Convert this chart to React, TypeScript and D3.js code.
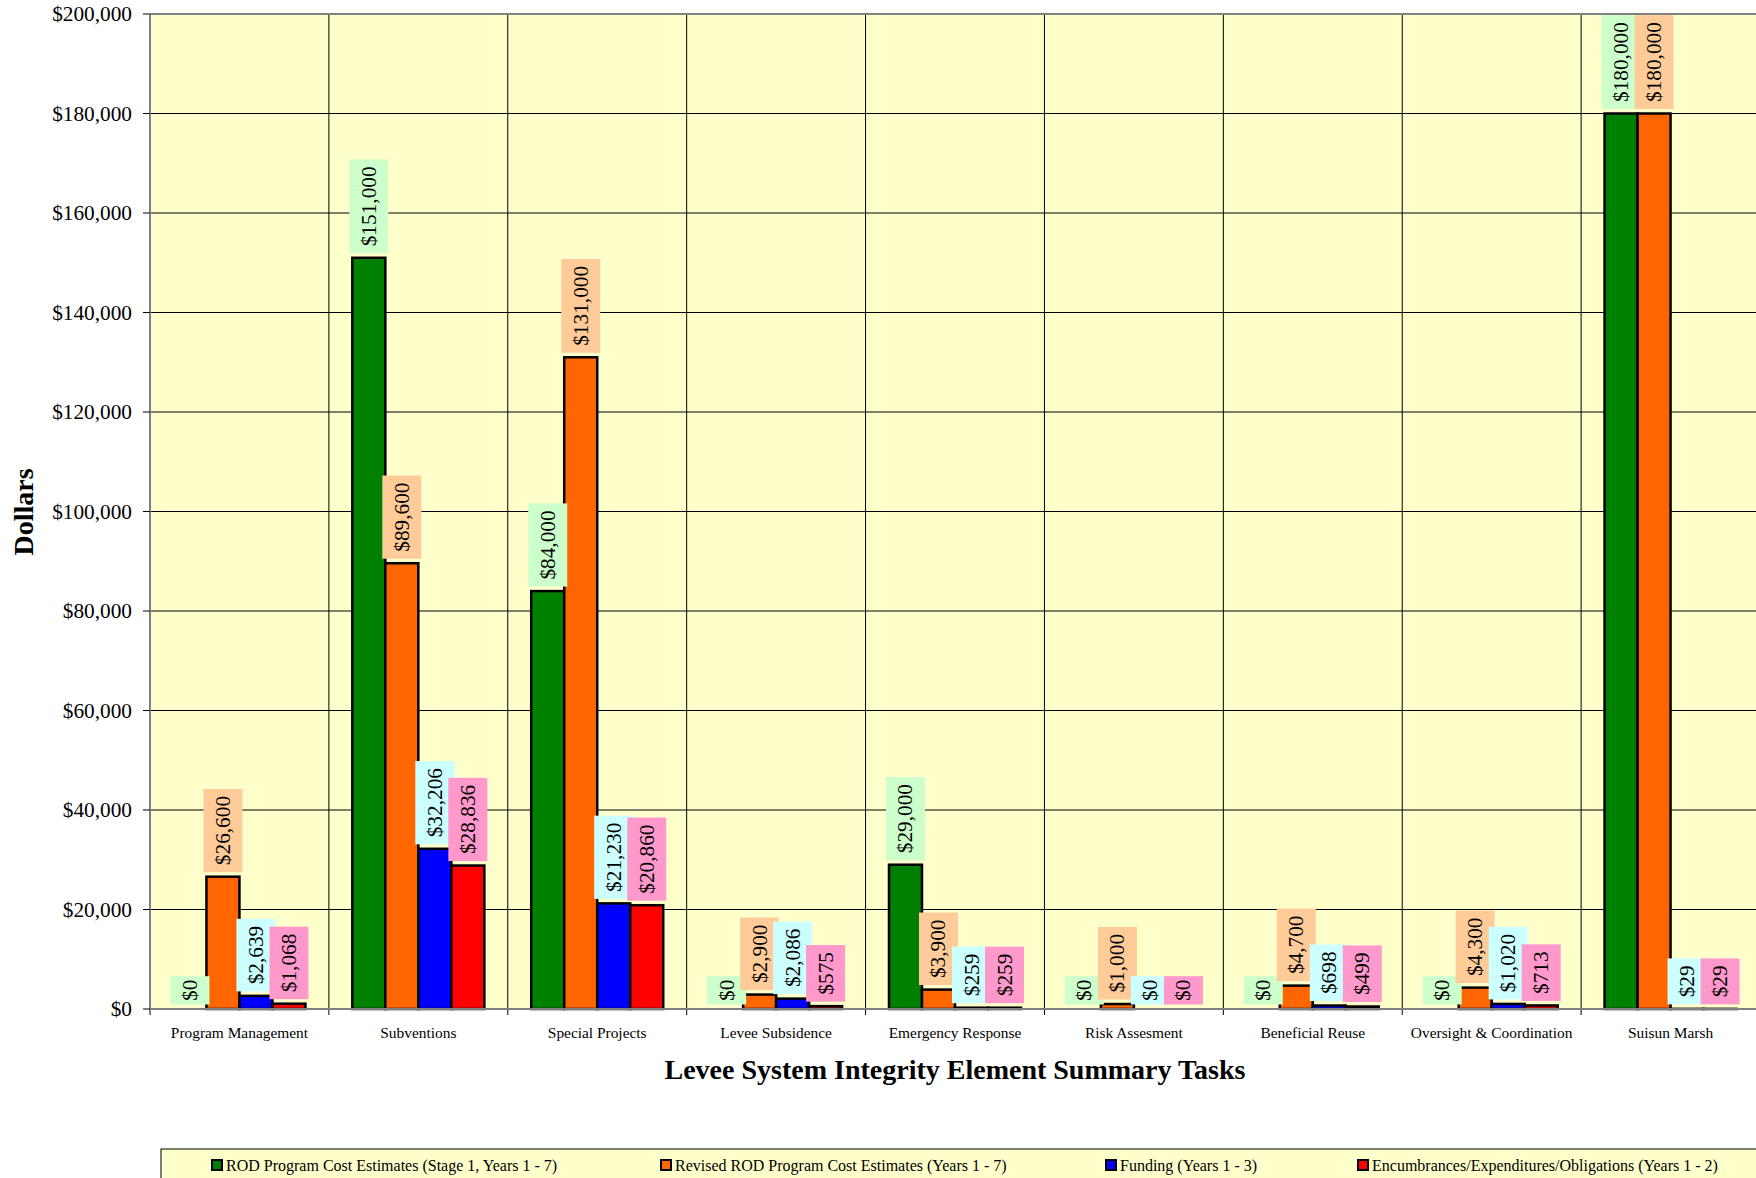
import * as d3 from "d3"
import { useEffect } from "react"

const categories = [
  "Program Management",
  "Subventions",
  "Special Projects",
  "Levee Subsidence",
  "Emergency Response",
  "Risk Assesment",
  "Beneficial Reuse",
  "Oversight & Coordination",
  "Suisun Marsh",
]

const seriesNames = [
  "ROD Program Cost Estimates (Stage 1, Years 1 - 7)",
  "Revised ROD Program Cost Estimates (Years 1 - 7)",
  "Funding (Years 1 - 3)",
  "Encumbrances/Expenditures/Obligations (Years 1 - 2)",
]

const rodEstimates = [0, 151000, 84000, 0, 29000, 0, 0, 0, 180000]
const revisedEstimates = [26600, 89600, 131000, 2900, 3900, 1000, 4700, 4300, 180000]
const funding = [2639, 32206, 21230, 2086, 259, 0, 698, 1020, 29]
const encumbrances = [1068, 28836, 20860, 575, 259, 0, 499, 713, 29]

const yTicks = [0, 20000, 40000, 60000, 80000, 100000, 120000, 140000, 160000, 180000, 200000]

const seriesValues = [rodEstimates, revisedEstimates, funding, encumbrances]
const barColors = ["#008000", "#FF6600", "#0000FF", "#FF0000"]
const labelColors = ["#CCFFCC", "#FFCC99", "#CCFFFF", "#FF99CC"]

const FONT = "'Liberation Serif', 'Times New Roman', serif"
const W = 1756
const H = 1178
const plot = { left: 150, right: 1760, top: 14, bottom: 1009 }
const labelFont = 21.3

const money = (v: number) => "$" + d3.format(",")(v)
// Times digit/$ are half an em, the comma a quarter
const textLen = (s: string) =>
  s.split("").reduce((acc, c) => acc + (c === "," ? 0.25 : 0.5), 0) * labelFont

export default function App() {
  useEffect(() => {
    document.body.style.margin = "0"
  }, [])

  const x = d3.scaleBand<string>().domain(categories).range([plot.left, plot.right]).padding(0)
  const xs = d3
    .scaleBand<number>()
    .domain(d3.range(seriesNames.length))
    .range([0, x.bandwidth()])
    .paddingInner(0)
    .paddingOuter(0.71)
  const y = d3.scaleLinear().domain([0, 200000]).range([plot.bottom, plot.top])

  const legendX = [226, 675, 1120, 1372]

  return (
    <svg width={W} height={H} style={{ display: "block", background: "#fff" }} fontFamily={FONT}>
      <defs>
        <clipPath id="plotClip">
          <rect x={plot.left} y={plot.top} width={plot.right - plot.left} height={plot.bottom - plot.top} />
        </clipPath>
      </defs>
      <rect
        x={plot.left}
        y={plot.top}
        width={plot.right - plot.left}
        height={plot.bottom - plot.top}
        fill="#FFFFCC"
      />
      {/* horizontal grid */}
      {yTicks.slice(1, -1).map((t) => (
        <line key={t} x1={plot.left} x2={plot.right} y1={y(t)} y2={y(t)} stroke="#000" strokeWidth={1} />
      ))}
      {/* category dividers + ticks below axis */}
      {categories.map((c) => (
        <line
          key={c}
          x1={x(c) ?? 0}
          x2={x(c) ?? 0}
          y1={plot.top}
          y2={plot.bottom + 6}
          stroke="#000"
          strokeWidth={1}
        />
      ))}
      <line x1={plot.right} x2={plot.right} y1={plot.top} y2={plot.bottom + 6} stroke="#000" />
      {/* top border, axes */}
      <line x1={plot.left} x2={plot.right} y1={plot.top} y2={plot.top} stroke="#808080" strokeWidth={2} />
      <line x1={plot.left} x2={plot.left} y1={plot.top} y2={plot.bottom} stroke="#808080" strokeWidth={2} />
      {yTicks.map((t) => (
        <g key={t}>
          <line x1={plot.left - 7} x2={plot.left} y1={y(t)} y2={y(t)} stroke="#000" strokeWidth={1} />
          <text x={132} y={y(t)} dy="0.33em" textAnchor="end" fontSize={21.3}>
            {money(t)}
          </text>
        </g>
      ))}

      {/* bars */}
      {seriesValues.map((vals, s) =>
        vals.map((v, i) => {
          if (v <= 0) return null
          const bx = (x(categories[i]) ?? 0) + (xs(s) ?? 0)
          return (
            <rect
              key={`b${s}-${i}`}
              x={bx}
              y={y(v)}
              width={xs.bandwidth()}
              height={plot.bottom - y(v)}
              fill={barColors[s]}
              stroke="#000"
              strokeWidth={2.5}
            />
          )
        }),
      )}
      <line x1={plot.left} x2={plot.right} y1={plot.bottom} y2={plot.bottom} stroke="#808080" strokeWidth={2} />

      {/* data labels */}
      <g clipPath="url(#plotClip)">
        {seriesValues.map((vals, s) =>
          vals.map((v, i) => {
            const label = money(v)
            const len = textLen(label)
            const pad = len < 25 ? 3.5 : 7
            const cx = (x(categories[i]) ?? 0) + (xs(s) ?? 0) + xs.bandwidth() / 2
            const bottom = y(v) - 4.5
            const h = len + pad * 2
            return (
              <g key={`l${s}-${i}`}>
                <rect x={cx - 19.5} y={bottom - h} width={39} height={h} fill={labelColors[s]} />
                <text
                  transform={`translate(${cx + 7},${bottom - pad}) rotate(-90)`}
                  fontSize={labelFont}
                  fill="#000"
                >
                  {label}
                </text>
              </g>
            )
          }),
        )}
      </g>

      {/* category labels */}
      {categories.map((c) => (
        <text key={c} x={(x(c) ?? 0) + x.bandwidth() / 2} y={1038} textAnchor="middle" fontSize={15.4}>
          {c}
        </text>
      ))}

      <text x={(plot.left + plot.right) / 2} y={1079} textAnchor="middle" fontSize={28} fontWeight="bold">
        Levee System Integrity Element Summary Tasks
      </text>
      <text transform={`translate(33,512) rotate(-90)`} textAnchor="middle" fontSize={28} fontWeight="bold">
        Dollars
      </text>

      {/* legend */}
      <rect x={161} y={1149} width={1700} height={100} fill="#FFFFCC" stroke="#000" strokeWidth={1} />
      {seriesNames.map((name, s) => (
        <g key={name}>
          <rect x={legendX[s] - 14} y={1160} width={10} height={10} fill={barColors[s]} stroke="#000" strokeWidth={2} />
          <text x={legendX[s]} y={1171} fontSize={16}>
            {name}
          </text>
        </g>
      ))}
    </svg>
  )
}
